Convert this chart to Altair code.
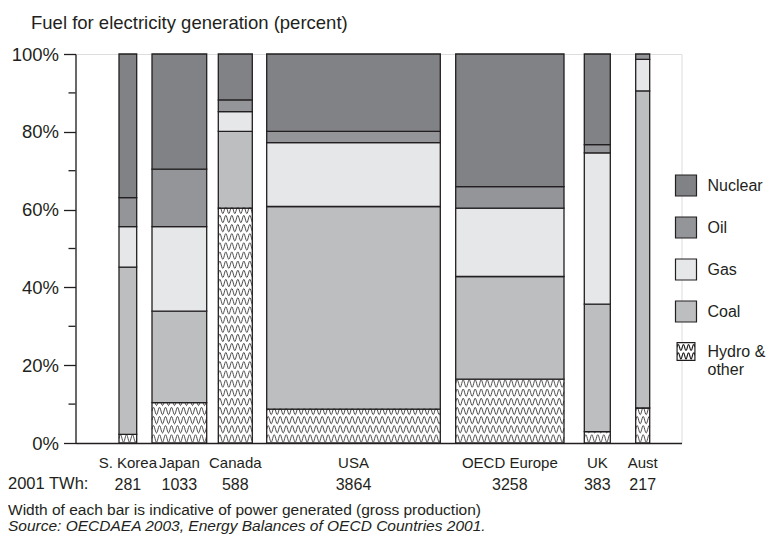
import altair as alt
import pandas as pd
import numpy as np

# ---------------- data ----------------
countries = ["S. Korea", "Japan", "Canada", "USA", "OECD Europe", "UK", "Aust"]
twh_2001 = [281, 1033, 588, 3864, 3258, 383, 217]
# drawn bar widths ("indicative of power generated") and gaps before each bar, in x units
bar_widths = [17.7, 54.7, 34.0, 173.6, 108.3, 26.0, 14.0]
gaps_before = [43.5, 15.3, 11.6, 14.4, 15.4, 20.3, 25.4]

fuels = ["Nuclear", "Oil", "Gas", "Coal", "Hydro & other"]
hydro = [2.2, 10.4, 60.4, 8.7, 16.4, 2.9, 9.0]
coal = [43.0, 23.5, 19.7, 52.1, 26.4, 32.8, 81.5]
gas = [10.4, 21.7, 5.1, 16.4, 17.6, 38.9, 8.1]
oil = [7.5, 14.8, 3.0, 2.9, 5.5, 2.1, 1.4]
nuclear = [36.9, 29.6, 11.8, 19.9, 34.1, 23.3, 0.0]

y_major = [0, 20, 40, 60, 80, 100]
y_minor = [10, 30, 50, 70, 90]

# ---------------- styles ----------------
fuel_colors = ["#808285", "#939598", "#e6e7e8", "#bcbec0", "#ffffff"]
INK = "#231f20"
FONT = "Liberation Sans"
X_TOTAL = 606


def wave_path(y, amp, x0, x1, n_half):
    step = (x1 - x0) / n_half
    p = f"M{x0:.3f},{y:.3f}Q{x0 + step / 2:.3f},{y - 2 * amp:.3f} {x0 + step:.3f},{y:.3f}"
    for k in range(2, n_half + 1):
        p += f"T{x0 + step * k:.3f},{y:.3f}"
    return p


square = "M-1,-1H1V1H-1Z"
hydro_symbol = ("M-0.85,-0.85H0.85V0.85H-0.85Z"
                + wave_path(-0.38, 0.28, -0.85, 0.85, 7)
                + wave_path(0.42, 0.28, -0.85, 0.85, 7))
shape_paths = [square, square, square, square, hydro_symbol]

# ---------------- build tables ----------------
lefts, rights = [], []
pos = 0.0
for g, w in zip(gaps_before, bar_widths):
    pos += g
    lefts.append(pos)
    pos += w
    rights.append(pos)
centers = [(a + b) / 2 for a, b in zip(lefts, rights)]

stack_order = [("Hydro & other", hydro), ("Coal", coal), ("Gas", gas),
               ("Oil", oil), ("Nuclear", nuclear)]
rows = []
for i, c in enumerate(countries):
    base = 0.0
    for fuel, vals in stack_order:
        v = vals[i]
        if v <= 0:
            continue
        rows.append(dict(country=c, fuel=fuel, x0=lefts[i], x1=rights[i],
                         y0=base, y1=base + v, xc=centers[i]))
        base += v
bars = pd.DataFrame(rows)

labels_df = pd.DataFrame({"country": countries, "xc": centers, "twh": twh_2001})

# wavy texture for the "Hydro & other" segments (a fill style)
wave_period = 6.0
wave_amp = 0.95
row_step = 2.35
tex = []
for i, c in enumerate(countries):
    h = hydro[i]
    xs = np.append(np.arange(lefts[i], rights[i], 0.5), rights[i])
    r = 0
    b = row_step / 2
    while b - wave_amp < h:
        ys = np.clip(b + wave_amp * np.sin(2 * np.pi * (xs - lefts[i]) / wave_period), 0, h)
        for x, y in zip(xs, ys):
            tex.append(dict(key=f"{c}-{r}", x=float(x), y=float(y)))
        r += 1
        b += row_step
texture = pd.DataFrame(tex)

minor_df = pd.DataFrame({"v": y_minor})

xscale = alt.Scale(domain=[0, X_TOTAL], nice=False, zero=False)
yscale = alt.Scale(domain=[0, 100], nice=False)
fill_scale = alt.Scale(domain=fuels, range=fuel_colors)
shape_scale = alt.Scale(domain=fuels, range=shape_paths)

legend = alt.Legend(
    title=None, orient="none", legendX=599, legendY=120,
    symbolSize=441, symbolStrokeColor=INK, symbolStrokeWidth=1.2,
    symbolOpacity=1, symbolFillColor="#ffffff",
    labelFontSize=16, labelFont=FONT, labelColor=INK, labelOffset=10,
    rowPadding=15, labelLimit=200,
    labelExpr="datum.label == 'Hydro & other' ? ['Hydro &', 'other'] : datum.label",
)

rects = alt.Chart(bars).mark_rect(stroke=INK, strokeWidth=1.3).encode(
    x=alt.X("x0:Q", scale=xscale,
            axis=alt.Axis(labels=False, ticks=False, title=None, grid=False,
                          domainColor=INK, domainWidth=1.3)),
    x2="x1:Q",
    y=alt.Y("y0:Q", scale=yscale,
            axis=alt.Axis(values=y_major, labelExpr="datum.value + '%'",
                          tickSize=12, tickColor=INK, tickWidth=1.3,
                          domainColor=INK, domainWidth=1.3, grid=False,
                          labelFontSize=18.5, labelFont=FONT, labelColor=INK,
                          labelPadding=5, title=None)),
    y2="y1:Q",
    fill=alt.Fill("fuel:N", scale=fill_scale, legend=legend),
)

waves = alt.Chart(texture).mark_line(color=INK, strokeWidth=0.8).encode(
    x=alt.X("x:Q", scale=xscale),
    y=alt.Y("y:Q", scale=yscale),
    detail="key:N",
)

legend_pts = alt.Chart(bars).mark_point(filled=True, opacity=0, stroke=INK, strokeWidth=1.2).encode(
    x=alt.X("xc:Q", scale=xscale),
    y=alt.Y("y0:Q", scale=yscale),
    fill=alt.Fill("fuel:N", scale=fill_scale, legend=legend),
    shape=alt.Shape("fuel:N", scale=shape_scale, legend=legend),
)

minor_ticks = alt.Chart(minor_df).mark_rule(color=INK, strokeWidth=1.3).encode(
    y=alt.Y("v:Q", scale=yscale),
    x=alt.value(-7),
    x2=alt.value(0),
)

country_text = alt.Chart(labels_df).mark_text(
    font=FONT, fontSize=15, color=INK, baseline="middle", align="center"
).encode(x=alt.X("xc:Q", scale=xscale), y=alt.value(409), text="country:N")

twh_text = alt.Chart(labels_df).mark_text(
    font=FONT, fontSize=16, color=INK, baseline="middle", align="center"
).encode(x=alt.X("xc:Q", scale=xscale), y=alt.value(431), text="twh:Q")

one = pd.DataFrame({"a": [0]})


def note(text, x, y, size, style="normal"):
    return alt.Chart(one).mark_text(
        font=FONT, fontSize=size, color=INK, baseline="middle", align="left",
        fontStyle=style, text=text
    ).encode(x=alt.value(x), y=alt.value(y))


title_text = note("Fuel for electricity generation (percent)", -44.5, -31, 18.5)
twh_label = note("2001 TWh:", -67.5, 430, 16.5)
foot1 = note("Width of each bar is indicative of power generated (gross production)", -67.5, 456, 15.5)
foot2 = note("Source: OECDAEA 2003, Energy Balances of OECD Countries 2001.", -67.5, 472, 15.5, "italic")

chart = alt.layer(
    rects, waves, minor_ticks, legend_pts, country_text, twh_text,
    title_text, twh_label, foot1, foot2,
).properties(
    width=X_TOTAL, height=389,
    padding={"left": 67.5, "top": 46, "right": 86.5, "bottom": 93},
    autosize="none",
).configure_view(stroke=None).configure(font=FONT)

chart.save("out.html", embed_options={"renderer": "svg", "actions": False})
